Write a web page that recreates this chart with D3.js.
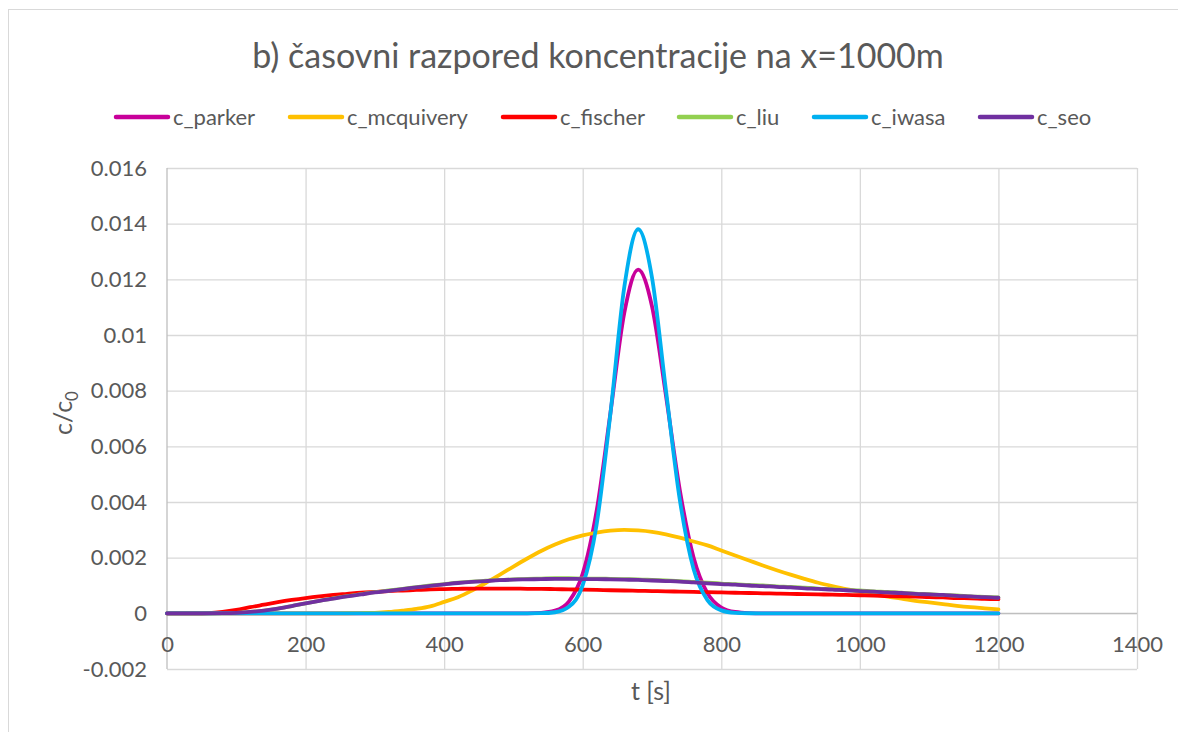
<!DOCTYPE html>
<html><head><meta charset="utf-8">
<script src="https://cdn.jsdelivr.net/npm/d3@7"></script>
<style>
body{margin:0;background:#fff}
svg{display:block}
text{font-family:Lato,"Open Sans",sans-serif;fill:#595959}
</style>
</head><body>
<svg id="chart" width="1178" height="732"></svg>
<script>
const chartTitle = "b) časovni razpored koncentracije na x=1000m";
const xTitle = "t [s]";
const seriesNames = ["c_parker","c_mcquivery","c_fischer","c_liu","c_iwasa","c_seo"];
const seriesColors = ["#C8009A","#FFC000","#FF0000","#92D050","#00B0F0","#7030A0"];
const xTickValues = [0,200,400,600,800,1000,1200,1400];
const xTickLabels = ["0","200","400","600","800","1000","1200","1400"];
const yTickValues = [-0.002,0,0.002,0.004,0.006,0.008,0.01,0.012,0.014,0.016];
const yTickLabels = ["-0.002","0","0.002","0.004","0.006","0.008","0.01","0.012","0.014","0.016"];

const times = [0,20,40,60,80,100,120,140,160,180,200,220,240,260,280,300,320,340,360,380,400,420,440,460,480,500,520,540,560,580,600,620,640,660,680,700,720,740,760,780,800,820,840,860,880,900,920,940,960,980,1000,1020,1040,1060,1080,1100,1120,1140,1160,1180,1200];

const cParker = [0,0,0,0,0,0,0,0,0,0,0,0,0,0,0,0,0,0,0,0,0,0,0,0,0,0,
  0.000002,0.000017,0.000096,0.000424,0.001425,0.00367,0.0072,0.01079,0.01235,0.01103,0.00785,0.00445,0.00201,0.000725,0.000208,0.000048,0.000009,0.000001,
  0,0,0,0,0,0,0,0,0,0,0,0,0,0,0,0,0];
const cMcquivery = [0,0,0,0,0,0,0,0,0,0,0,0,0,
  0.000003,0.00001,0.00002,0.00005,0.0001,0.00016,0.00025,0.00041,0.00058,0.00082,0.00109,0.00138,0.00168,0.00197,0.00224,0.00247,0.00266,0.0028,0.0029,0.00297,0.003,0.00298,0.00293,0.00284,0.00272,0.00258,0.00244,0.00226,0.00208,0.0019,0.00172,0.00155,0.00139,0.00124,0.0011,0.00098,0.00087,0.00078,0.00068,0.0006,0.00053,0.00045,0.00039,0.00033,0.00027,0.00022,0.00018,0.00014];
const cFischer = [0,0,0,0.00001,0.00005,0.00012,0.00022,0.00031,0.0004,0.00048,0.00055,0.00061,0.00066,0.0007,0.00074,0.00077,0.0008,0.00082,0.00084,0.00086,0.00087,0.00088,0.00089,0.00089,0.00089,0.00089,0.00088,0.00088,0.00087,0.00086,0.00085,0.00084,0.00083,0.00082,0.00081,0.0008,0.00079,0.00078,0.00077,0.00076,0.00075,0.00074,0.00073,0.00072,0.00071,0.0007,0.00069,0.00068,0.00067,0.00066,0.00065,0.00064,0.00062,0.00061,0.0006,0.00058,0.00057,0.00055,0.00054,0.00052,0.00051];
const cLiu = [0,0,0,0,0.000005,0.00002,0.00005,0.0001,0.00017,0.00026,0.00036,0.00045,0.00054,0.00062,0.00069,0.00076,0.00082,0.00088,0.00094,0.001,0.00105,0.0011,0.00114,0.00117,0.0012,0.00122,0.00124,0.00125,0.00126,0.00126,0.00125,0.00125,0.00124,0.00123,0.00122,0.0012,0.00118,0.00116,0.00113,0.0011,0.00107,0.00105,0.00102,0.001,0.00097,0.00095,0.00092,0.00089,0.00087,0.00084,0.00082,0.00079,0.00077,0.00074,0.00071,0.00069,0.00066,0.00064,0.00061,0.00059,0.00057];
const cIwasa = [0,0,0,0,0,0,0,0,0,0,0,0,0,0,0,0,0,0,0,0,0,0,0,0,0,0,0,
  0.000005,0.000039,0.000233,0.00101,0.00318,0.00718,0.01172,0.0138,0.01206,0.00804,0.0041,0.00159,0.000473,0.000107,0.000019,0.000003,
  0,0,0,0,0,0,0,0,0,0,0,0,0,0,0,0,0,0];
const cSeo = [0,0,0,0,0.000005,0.00002,0.00005,0.0001,0.00017,0.00026,0.00036,0.00045,0.00053,0.00061,0.00068,0.00075,0.00081,0.00087,0.00093,0.00099,0.00104,0.00109,0.00113,0.00116,0.00119,0.00121,0.00122,0.00123,0.00124,0.00124,0.00123,0.00123,0.00122,0.00121,0.0012,0.00118,0.00116,0.00114,0.00111,0.00108,0.00105,0.00103,0.001,0.00098,0.00095,0.00093,0.0009,0.00088,0.00085,0.00083,0.0008,0.00078,0.00075,0.00073,0.0007,0.00068,0.00066,0.00063,0.00061,0.00058,0.00056];

const seriesValues = [cParker,cMcquivery,cFischer,cLiu,cIwasa,cSeo];

const svg = d3.select("#chart");
const plot = {left:167, right:1137, top:168, bottom:669};

// chart border (only left/top visible in the reference)
svg.append("rect").attr("x",8.5).attr("y",9.5).attr("width",1240).attr("height",800)
  .attr("fill","#fff").attr("stroke","#D9D9D9").attr("stroke-width",1);

const x = d3.scaleLinear().domain([0,1400]).range([plot.left,plot.right]);
const y = d3.scaleLinear().domain([-0.002,0.016]).range([plot.bottom,plot.top]);

// horizontal gridlines
svg.append("g").attr("transform",`translate(${plot.left},0)`)
  .call(d3.axisLeft(y).tickValues(yTickValues).tickSize(-(plot.right-plot.left)).tickFormat(""))
  .call(g=>g.select(".domain").remove())
  .call(g=>g.selectAll("line").attr("stroke","#D9D9D9").attr("stroke-width",1.3));
// vertical gridlines
svg.append("g").attr("transform",`translate(0,${plot.bottom})`)
  .call(d3.axisBottom(x).tickValues(xTickValues.slice(1)).tickSize(-(plot.bottom-plot.top)).tickFormat(""))
  .call(g=>g.select(".domain").remove())
  .call(g=>g.selectAll("line").attr("stroke","#D9D9D9").attr("stroke-width",1.3));

// y axis line
svg.append("line").attr("x1",x(0)).attr("x2",x(0)).attr("y1",plot.top).attr("y2",plot.bottom)
  .attr("stroke","#BFBFBF").attr("stroke-width",1.3);
// zero axis line
svg.append("line").attr("x1",plot.left).attr("x2",plot.right).attr("y1",y(0)).attr("y2",y(0))
  .attr("stroke","#BFBFBF").attr("stroke-width",1.3);

// y tick labels
const yAxis = svg.append("g").attr("transform",`translate(${plot.left},0)`)
  .call(d3.axisLeft(y).tickValues(yTickValues).tickSize(0).tickPadding(20)
    .tickFormat((d,i)=>yTickLabels[i]));
yAxis.select(".domain").remove();
yAxis.selectAll("text").attr("font-size",22).attr("fill","#595959").style("font-family","Lato");

// x tick labels
const xAxis = svg.append("g").attr("transform",`translate(0,${y(0)})`)
  .call(d3.axisBottom(x).tickValues(xTickValues).tickSize(0).tickPadding(23)
    .tickFormat((d,i)=>xTickLabels[i]));
xAxis.select(".domain").remove();
xAxis.selectAll("text").attr("font-size",22).attr("fill","#595959").style("font-family","Lato");

// series
const line = d3.line().x((d,i)=>x(times[i])).y(d=>y(d)).curve(d3.curveMonotoneX);
seriesValues.forEach((vals,k)=>{
  svg.append("path").datum(vals).attr("d",line).attr("fill","none")
    .attr("stroke",seriesColors[k]).attr("stroke-width",3.8)
    .attr("stroke-linejoin","round").attr("stroke-linecap","round");
});

// title
svg.append("text").attr("x",598).attr("y",68).attr("text-anchor","middle")
  .attr("font-size",34).text(chartTitle);

// axis titles
svg.append("text").attr("x",651).attr("y",700).attr("text-anchor","middle")
  .attr("font-size",25).text(xTitle);
const yt = svg.append("text").attr("transform","translate(72,413) rotate(-90)")
  .attr("text-anchor","middle").attr("font-size",25);
yt.append("tspan").text("c/c");
yt.append("tspan").attr("font-size",17).attr("dy",6).text("0");

// legend
const legendLineX = [116,290,503,679,814,980];
const lg = svg.append("g");
seriesNames.forEach((n,k)=>{
  const lx = legendLineX[k];
  lg.append("line").attr("x1",lx).attr("x2",lx+52).attr("y1",117).attr("y2",117)
    .attr("stroke",seriesColors[k]).attr("stroke-width",4.5).attr("stroke-linecap","round");
  lg.append("text").attr("x",lx+57).attr("y",125).attr("font-size",22).text(n);
});
</script>
</body></html>
